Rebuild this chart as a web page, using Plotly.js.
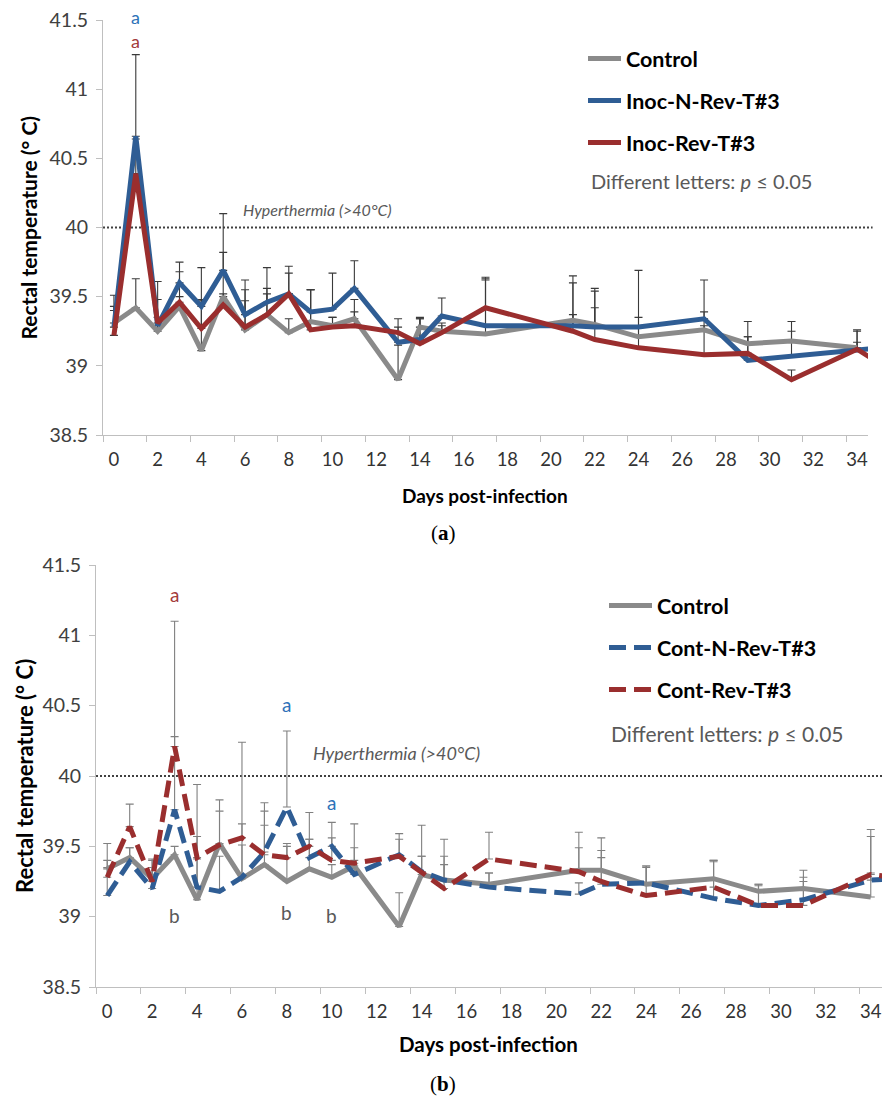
<!DOCTYPE html>
<html><head><meta charset="utf-8">
<script src="https://cdn.plot.ly/plotly-3.0.1.min.js"></script>
<style>html,body{margin:0;padding:0;background:#fff}#chart{width:886px;height:1097px}</style>
</head><body><div id="chart"></div>
<script>
// ---------- data ----------
const daysA = [0,1,2,3,4,5,6,7,8,9,10,11,13,14,15,17,21,22,24,27,29,31,34,35];
const controlA = [39.31,39.42,39.25,39.43,39.11,39.50,39.26,39.37,39.24,39.32,39.29,39.34,38.90,39.28,39.25,39.23,39.33,39.30,39.21,39.26,39.16,39.18,39.13,null];
const inocNRevA = [39.28,40.66,39.29,39.60,39.43,39.69,39.37,39.46,39.52,39.39,39.41,39.56,39.17,39.19,39.36,39.29,39.29,39.28,39.28,39.34,39.04,39.07,39.12,39.13];
const inocRevA = [39.22,40.39,39.31,39.46,39.27,39.44,39.28,39.37,39.52,39.26,39.28,39.29,39.24,39.16,39.24,39.42,39.25,39.19,39.13,39.08,39.09,38.90,39.12,39.02];
const controlErrA = [0.20,0.21,0.10,0.07,0.37,0.60,0.29,0.19,0.10,0.23,0.06,0.14,0.25,0.06,0.06,0.40,0.32,0.26,0.48,0.13,0.16,0.14,0.13,null];
const inocNRevErrA = [0.15,0.59,0.32,0.15,0.28,0.13,0.25,0.25,0.20,0.16,0.26,0.20,0.11,0.16,0.13,0.33,0.31,0.26,0.07,0.28,0.17,0.18,0.13,null];
const inocRevErrA = [0.18,0.25,0.17,0.22,0.20,0.08,0.19,0.15,0.15,0.29,0.07,0.10,0.10,0.18,0.05,0.22,0.12,0.23,0.16,0.21,0.12,0.07,0.05,null];

const daysB = [0,1,2,3,4,5,6,7,8,9,10,11,13,14,15,17,21,22,24,27,29,31,34,35];
const controlB = [39.34,39.42,39.27,39.44,39.12,39.52,39.27,39.37,39.25,39.34,39.28,39.36,38.93,39.30,39.26,39.23,39.33,39.33,39.23,39.27,39.18,39.20,39.14,null];
const contNRevB = [39.15,39.39,39.20,39.76,39.21,39.18,39.28,39.46,39.78,39.42,39.50,39.30,39.44,39.32,39.26,39.21,39.16,39.23,39.24,39.13,39.08,39.12,39.26,39.27];
const contRevB = [39.28,39.64,39.25,40.21,39.42,39.51,39.56,39.44,39.42,39.50,39.40,39.38,39.43,39.32,39.20,39.41,39.32,39.25,39.15,39.21,39.08,39.08,39.30,39.28];
const controlErrB = [0.18,0.07,0.14,0.06,0.82,0.31,0.97,0.44,0.25,0.40,0.09,0.30,0.24,0.35,0.29,0.08,0.27,0.23,0.13,0.13,0.05,0.13,0.48,null];
const contNRevErrB = [0.20,0.10,0.20,0.52,0.20,0.25,0.23,0.19,0.54,0.13,0.17,0.10,0.15,0.11,0.17,0.10,0.08,0.24,0.12,0.26,0.15,0.16,0.05,null];
const contRevErrB = [0.12,0.16,0.10,0.89,0.15,0.24,0.10,0.31,0.10,0.05,0.16,0.11,0.12,0.11,0.17,0.19,0.17,0.17,0.20,0.19,0.14,0.17,0.27,null];

const namesA = ['Control','Inoc-N-Rev-T#3','Inoc-Rev-T#3'];
const namesB = ['Control','Cont-N-Rev-T#3','Cont-Rev-T#3'];

const tickDays = [0,2,4,6,8,10,12,14,16,18,20,22,24,26,28,30,32,34];
const tickTemps = [38.5,39,39.5,40,40.5,41,41.5];
const hyperthermia = 40;

// significance letters: [day, temperature, letter, colour key]
const lettersA = {day:[1,1], temp:[41.5,41.35], text:['a','a'], col:['blueL','redL']};
const lettersB = {day:[3,8,10,3,8,10], temp:[41.29,40.51,39.81,39.01,39.03,39.01], text:['a','a','a','b','b','b'], col:['redL','blueL','blueL','grayL','grayL','grayL']};

// ---------- styling ----------
const C = {gray:'#8a8a8a', blue:'#2f5d94', red:'#9a2e2e', blueL:'#2e72b8', redL:'#a33a3a', grayL:'#595959'};
const FONT = 'Lato, "Open Sans", sans-serif';
const W = 886, H = 1097;
const px = v => v / W, py = v => 1 - v / H;

function errTrace(x, y, err, xa, ya, ecol) {
  return {x, y, type:'scatter', mode:'markers', marker:{size:1, color:'rgba(0,0,0,0)'},
    error_y:{type:'data', symmetric:false, array:err, arrayminus:err.map(()=>0), color:ecol, thickness:1.1, width:4},
    xaxis:xa, yaxis:ya, showlegend:false, hoverinfo:'skip'};
}
function lineTrace(x, y, name, color, xa, ya, leg, grp, dash) {
  return {x, y, type:'scatter', mode:'lines', name, line:{color, width:5, dash: dash || 'solid'},
    xaxis:xa, yaxis:ya, legend:leg, legendgroup:grp, connectgaps:false};
}

const errA = '#3a3a3a', errB = '#808080';
const dashB = '17px,8px';
const data = [
  errTrace(daysA, controlA, controlErrA, 'x', 'y', errA),
  errTrace(daysA, inocNRevA, inocNRevErrA, 'x', 'y', errA),
  errTrace(daysA, inocRevA, inocRevErrA, 'x', 'y', errA),
  lineTrace(daysA, controlA, namesA[0], C.gray, 'x', 'y', 'legend', 'a1'),
  lineTrace(daysA, inocNRevA, namesA[1], C.blue, 'x', 'y', 'legend', 'a2'),
  lineTrace(daysA, inocRevA, namesA[2], C.red, 'x', 'y', 'legend', 'a3'),
  errTrace(daysB, controlB, controlErrB, 'x2', 'y2', errB),
  errTrace(daysB, contNRevB, contNRevErrB, 'x2', 'y2', errB),
  errTrace(daysB, contRevB, contRevErrB, 'x2', 'y2', errB),
  lineTrace(daysB, controlB, namesB[0], C.gray, 'x2', 'y2', 'legend2', 'b1'),
  lineTrace(daysB, contNRevB, namesB[1], C.blue, 'x2', 'y2', 'legend2', 'b2', dashB),
  lineTrace(daysB, contRevB, namesB[2], C.red, 'x2', 'y2', 'legend2', 'b3', dashB)
];

function xAxis(domain, anchor) {
  return {domain, anchor, range:[-0.5, 34.5], tickmode:'array', tickvals:tickDays, ticktext:tickDays.map(String),
    ticks:'', showline:true, linecolor:'#bfbfbf', linewidth:1, showgrid:false, zeroline:false,
    minor:{tick0:-0.5, dtick:2, ticks:'outside', ticklen:6, tickcolor:'#bfbfbf', tickwidth:1, showgrid:false},
    tickfont:{family:FONT, size:18.5, color:'#333'}, ticklabelstandoff:8, fixedrange:true};
}
function yAxis(domain, anchor) {
  return {domain, anchor, range:[38.5, 41.5], tickmode:'array', tickvals:tickTemps, ticktext:tickTemps.map(String),
    ticks:'outside', ticklen:6, tickcolor:'#bfbfbf', showline:true, linecolor:'#bfbfbf', linewidth:1,
    showgrid:false, zeroline:false, tickfont:{family:FONT, size:19.5, color:'#404040'}, ticklabelstandoff:4, fixedrange:true};
}

function letterAnns(L, xr, yr, size, lift) {
  return L.day.map((d,i)=>({x:d, y:L.temp[i], xref:xr, yref:yr, text:L.text[i], showarrow:false,
    xanchor:'center', yanchor:'middle', borderpad:0, yshift:(i === 0 ? lift : 0), font:{family:FONT, size, color:C[L.col[i]]}}));
}
function txt(o) { return Object.assign({showarrow:false, xanchor:'center', yanchor:'middle'}, o); }

const annotations = [
  // y titles
  txt({xref:'paper', x:px(28), yref:'y domain', y:0.5, text:'<b>Rectal temperature (° C)</b>', textangle:-90, font:{family:FONT, size:21, color:'#000'}}),
  txt({xref:'paper', x:px(24), yref:'y2 domain', y:0.5, text:'<b>Rectal temperature (° C)</b>', textangle:-90, font:{family:FONT, size:22, color:'#000'}}),
  // x titles
  txt({xref:'x domain', x:0.5, yref:'paper', y:py(495), text:'<b>Days post-infection</b>', font:{family:FONT, size:19, color:'#000'}}),
  txt({xref:'x2 domain', x:0.5, yref:'paper', y:py(1044), text:'<b>Days post-infection</b>', font:{family:FONT, size:20.5, color:'#000'}}),
  // captions
  txt({xref:'paper', x:px(443), yref:'paper', y:py(533), text:'(<b>a</b>)', font:{family:'"Liberation Serif", serif', size:21, color:'#000'}}),
  txt({xref:'paper', x:px(443), yref:'paper', y:py(1084), text:'(<b>b</b>)', font:{family:'"Liberation Serif", serif', size:21, color:'#000'}}),
  // hyperthermia labels
  txt({xref:'x', x:9.3, yref:'y', y:40.13, text:'<i>Hyperthermia (>40°C)</i>', font:{family:FONT, size:16, color:'#595959'}}),
  txt({xref:'x2', x:12.9, yref:'y2', y:40.16, text:'<i>Hyperthermia (>40°C)</i>', font:{family:FONT, size:18, color:'#595959'}}),
  // significance notes
  txt({xref:'paper', x:px(589), xanchor:'left', yref:'paper', y:py(181), text:'Different letters: <i>p</i> ≤ 0.05', font:{family:FONT, size:20, color:'#595959'}}),
  txt({xref:'paper', x:px(609), xanchor:'left', yref:'paper', y:py(733), text:'Different letters: <i>p</i> ≤ 0.05', font:{family:FONT, size:21, color:'#595959'}}),
  ...letterAnns(lettersA, 'x', 'y', 18, 3),
  ...letterAnns(lettersB, 'x2', 'y2', 19, 0)
];

const shapes = [
  {type:'line', xref:'x domain', x0:0, x1:1.006, yref:'y', y0:hyperthermia, y1:hyperthermia, line:{color:'#404040', width:2, dash:'2px,2px'}, layer:'below'},
  {type:'line', xref:'x2 domain', x0:0, x1:1, yref:'y2', y0:hyperthermia, y1:hyperthermia, line:{color:'#404040', width:2, dash:'2px,2px'}, layer:'below'}
];

const layout = {
  width:W, height:H, margin:{l:0, r:0, t:0, b:0}, paper_bgcolor:'#fff', plot_bgcolor:'#fff',
  font:{family:FONT},
  xaxis: xAxis([px(103), px(868)], 'y'),
  yaxis: yAxis([py(435), py(20)], 'x'),
  xaxis2: xAxis([px(96), px(882)], 'y2'),
  yaxis2: yAxis([py(987), py(565)], 'x2'),
  legend:{x:px(583), y:py(38), xanchor:'left', yanchor:'top', bgcolor:'rgba(0,0,0,0)', traceorder:'grouped', tracegroupgap:11,
    itemwidth:33, font:{family:FONT, size:21.5, color:'#000', weight:700}},
  legend2:{x:px(604), y:py(585), xanchor:'left', yanchor:'top', bgcolor:'rgba(0,0,0,0)', traceorder:'grouped', tracegroupgap:11,
    itemwidth:43, font:{family:FONT, size:21.5, color:'#000', weight:700}},
  annotations, shapes, showlegend:true
};

Plotly.newPlot('chart', data, layout, {staticPlot:true, displayModeBar:false});
</script></body></html>
